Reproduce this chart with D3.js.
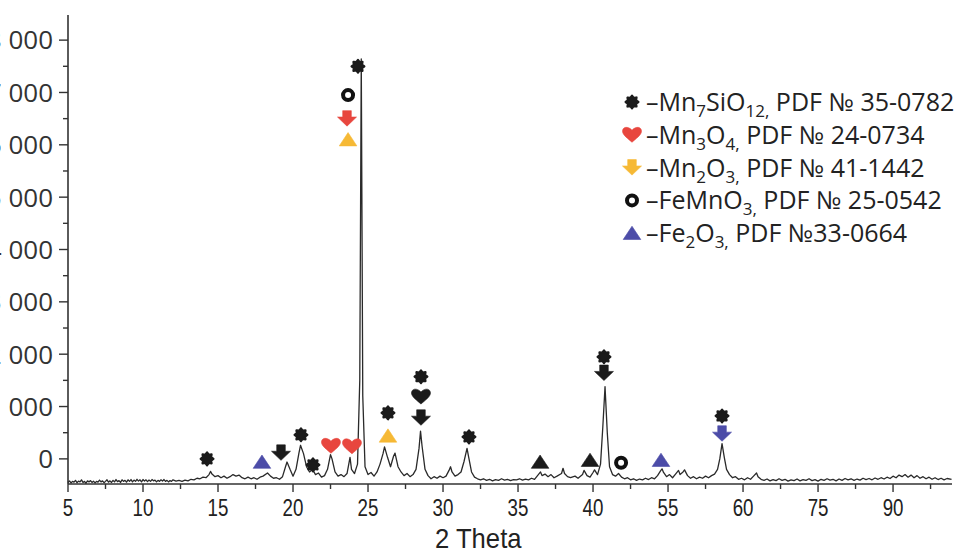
<!DOCTYPE html>
<html>
<head>
<meta charset="utf-8">
<script src="https://cdn.jsdelivr.net/npm/d3@7"></script>
<style>
  html, body { margin: 0; padding: 0; background: #ffffff; }
  svg { display: block; }
</style>
</head>
<body>
<svg id="chart" width="959" height="553"></svg>
<script>
// XRD scan: [2θ, intensity]
const scan = [
  [5.0,-450],[5.1,-420],[5.2,-460],[5.3,-430],[5.4,-445],[5.5,-410],[5.6,-455],[5.7,-425],[5.8,-440],[5.9,-400],
  [6.0,-450],[6.1,-430],[6.2,-465],[6.3,-420],[6.4,-440],[6.5,-415],[6.6,-450],[6.7,-425],[6.8,-460],[6.9,-430],
  [7.0,-445],[7.1,-405],[7.2,-440],[7.3,-420],[7.4,-455],[7.5,-430],[7.6,-400],[7.7,-445],[7.8,-420],[7.9,-450],
  [8.0,-410],[8.1,-440],[8.2,-395],[8.3,-435],[8.4,-415],[8.5,-450],[8.6,-400],[8.7,-430],[8.8,-410],[8.9,-445],
  [9.0,-400],[9.1,-430],[9.2,-395],[9.3,-440],[9.4,-405],[9.5,-430],[9.6,-390],[9.7,-425],[9.8,-400],[9.9,-440],
  [10.0,-395],[10.1,-425],[10.2,-400],[10.3,-435],[10.4,-405],[10.5,-430],[10.6,-395],[10.7,-420],[10.8,-405],[10.9,-440],
  [11.0,-410],[11.1,-430],[11.2,-400],[11.3,-425],[11.4,-395],[11.5,-430],[11.6,-410],[11.7,-440],[11.8,-415],[11.9,-430],
  [12.0,-400],[12.2,-425],[12.4,-410],[12.6,-430],[12.8,-405],[13.0,-420],[13.2,-390],[13.4,-400],[13.6,-370],[13.8,-380],
  [14.0,-350],[14.2,-360],[14.4,-300],[14.5,-240],[14.6,-290],[14.8,-340],[15.0,-320],[15.2,-360],[15.4,-330],[15.6,-370],
  [15.8,-340],[16.0,-300],[16.2,-330],[16.4,-310],[16.6,-360],[16.8,-380],[17.0,-350],[17.2,-380],[17.4,-360],[17.6,-390],
  [17.8,-350],[18.0,-330],[18.3,-270],[18.5,-330],[18.7,-370],[18.9,-360],[19.1,-390],[19.3,-340],[19.5,-150],[19.6,-60],
  [19.8,-200],[20.0,-330],[20.2,-200],[20.4,120],[20.5,260],[20.7,100],[20.9,-150],[21.1,-250],[21.3,-200],[21.5,-300],
  [21.7,-270],[21.9,-350],[22.1,-320],[22.3,-200],[22.5,80],[22.6,0],[22.8,-250],[23.0,-330],[23.2,-300],[23.4,-340],
  [23.6,-280],[23.8,30],[23.9,-200],[24.1,-280],[24.3,-100],[24.45,1500],[24.55,7640],[24.65,1200],[24.8,-150],[25.0,-300],
  [25.2,-260],[25.4,-330],[25.6,-250],[25.8,-100],[26.0,100],[26.1,230],[26.3,30],[26.5,-150],[26.7,50],[26.8,110],
  [27.0,-150],[27.2,-250],[27.4,-320],[27.6,-280],[27.8,-340],[28.0,-300],[28.2,-200],[28.4,200],[28.5,530],[28.6,250],
  [28.8,-200],[29.0,-320],[29.2,-380],[29.4,-340],[29.6,-370],[29.8,-330],[30.0,-360],[30.2,-330],[30.4,-220],[30.5,-150],
  [30.6,-250],[30.8,-330],[31.0,-300],[31.2,-250],[31.4,-50],[31.6,200],[31.7,50],[31.9,-250],[32.1,-350],[32.3,-380],
  [32.5,-400],[32.7,-380],[32.9,-410],[33.1,-390],[33.3,-420],[33.5,-395],[33.7,-410],[33.9,-380],[34.1,-405],[34.3,-390],
  [34.5,-415],[34.7,-395],[34.9,-400],[35.1,-380],[35.3,-405],[35.5,-385],[35.7,-400],[35.9,-370],[36.1,-390],[36.3,-320],
  [36.5,-250],[36.6,-320],[36.8,-290],[37.0,-340],[37.2,-300],[37.4,-360],[37.6,-330],[37.9,-280],[38.0,-180],[38.1,-280],
  [38.3,-340],[38.5,-360],[38.8,-330],[39.0,-370],[39.3,-300],[39.4,-220],[39.6,-320],[39.8,-350],[40.0,-260],[40.1,-210],
  [40.3,-300],[40.5,-100],[40.65,600],[40.8,1380],[40.95,500],[41.1,-150],[41.3,-300],[41.5,-330],[41.7,-280],[41.9,-350],
  [42.1,-380],[42.3,-360],[42.5,-400],[42.7,-380],[42.9,-410],[43.1,-385],[43.3,-400],[43.5,-370],[43.7,-395],[43.9,-360],
  [44.1,-380],[44.3,-320],[44.5,-230],[44.6,-190],[44.7,-260],[44.9,-340],[45.1,-300],[45.3,-360],[45.5,-290],[45.7,-220],
  [45.8,-300],[46.0,-250],[46.1,-210],[46.3,-320],[46.5,-370],[46.7,-340],[46.9,-380],[47.1,-350],[47.3,-370],[47.5,-330],
  [47.7,-360],[47.9,-320],[48.1,-290],[48.3,-200],[48.45,0],[48.6,290],[48.75,30],[48.9,-200],[49.1,-300],[49.3,-360],
  [49.5,-340],[49.7,-390],[49.9,-370],[50.1,-400],[50.3,-360],[50.5,-390],[50.7,-330],[50.9,-270],[51.0,-340],[51.2,-390],
  [51.4,-410],[51.6,-385],[51.8,-420],[52.0,-395],[52.2,-415],[52.4,-380],[52.6,-410],[52.8,-390],[53.0,-425],[53.2,-400],
  [53.4,-415],[53.6,-385],[53.8,-420],[54.0,-395],[54.2,-410],[54.4,-380],[54.6,-415],[54.8,-395],[55.0,-425],[55.2,-390],
  [55.4,-410],[55.6,-380],[55.8,-405],[56.0,-390],[56.2,-420],[56.4,-385],[56.6,-410],[56.8,-375],[57.0,-400],[57.2,-380],
  [57.4,-410],[57.6,-385],[57.8,-405],[58.0,-370],[58.2,-395],[58.4,-375],[58.6,-400],[58.8,-365],[59.0,-390],[59.2,-360],
  [59.4,-385],[59.6,-350],[59.8,-375],[60.0,-330],[60.2,-360],[60.4,-310],[60.6,-340],[60.8,-300],[61.0,-350],[61.2,-310],
  [61.4,-360],[61.6,-320],[61.8,-370],[62.0,-340],[62.2,-380],[62.4,-350],[62.6,-390],[62.8,-360],[63.0,-395],[63.2,-370],
  [63.4,-400],[63.6,-375],[63.9,-390]
];

// Axis ticks and labels
const xTickValues = [5, 10, 15, 20, 25, 30, 35, 40, 45, 50, 55, 60];
const xTickLabels = ["5", "10", "15", "20", "25", "30", "35", "40", "55", "60", "75", "90"];
const xMinorValues = [7.5, 12.5, 17.5, 22.5, 27.5, 32.5, 37.5, 42.5, 47.5, 52.5, 57.5, 62.5];
const yTickValues = [0, 1000, 2000, 3000, 4000, 5000, 6000, 7000, 8000];
const yTickLabels = ["0", "1 000", "2 000", "3 000", "4 000", "5 000", "6 000", "7 000", "8 000"];
const yMinorValues = [500, 1500, 2500, 3500, 4500, 5500, 6500, 7500];
const xTitle = "2 Theta";

// Phases: legend entries (text runs, "sub" marks a subscript run)
const phases = [
  { symbol: "asterisk", color: "#1b1b1b", formula: [["–Mn",""],["7","sub"],["SiO",""],["12,","sub"],[" PDF № 35-0782",""]] },
  { symbol: "heart",    color: "#e8463e", formula: [["–Mn",""],["3","sub"],["O",""],["4,","sub"],[" PDF № 24-0734",""]] },
  { symbol: "arrow",    color: "#f6b935", formula: [["–Mn",""],["2","sub"],["O",""],["3,","sub"],[" PDF № 41-1442",""]] },
  { symbol: "ring",     color: "#111111", formula: [["–FeMnO",""],["3,","sub"],[" PDF № 25-0542",""]] },
  { symbol: "triangle", color: "#4c4ca8", formula: [["–Fe",""],["2","sub"],["O",""],["3,","sub"],[" PDF №33-0664",""]] }
];

// Peak markers: symbol, colour, 2θ and intensity level where the marker sits
const markers = [
  { symbol: "asterisk", color: "#1b1b1b", theta: 14.27, level: 0 },
  { symbol: "triangle", color: "#4c4ca8", theta: 17.93, level: -60 },
  { symbol: "arrow",    color: "#1b1b1b", theta: 19.2,  level: 115 },
  { symbol: "asterisk", color: "#1b1b1b", theta: 20.53, level: 460 },
  { symbol: "asterisk", color: "#1b1b1b", theta: 21.33, level: -115 },
  { symbol: "heart",    color: "#e8463e", theta: 22.53, level: 250 },
  { symbol: "heart",    color: "#e8463e", theta: 23.93, level: 240 },
  { symbol: "asterisk", color: "#1b1b1b", theta: 24.33, level: 7500 },
  { symbol: "ring",     color: "#111111", theta: 23.67, level: 6950 },
  { symbol: "arrow",    color: "#e8463e", theta: 23.6,  level: 6500 },
  { symbol: "triangle", color: "#f6b935", theta: 23.67, level: 6100 },
  { symbol: "asterisk", color: "#1b1b1b", theta: 26.33, level: 880 },
  { symbol: "triangle", color: "#f6b935", theta: 26.33, level: 440 },
  { symbol: "asterisk", color: "#1b1b1b", theta: 28.53, level: 1570 },
  { symbol: "heart",    color: "#1b1b1b", theta: 28.53, level: 1190 },
  { symbol: "arrow",    color: "#1b1b1b", theta: 28.53, level: 785 },
  { symbol: "asterisk", color: "#1b1b1b", theta: 31.73, level: 420 },
  { symbol: "triangle", color: "#1b1b1b", theta: 36.47, level: -60 },
  { symbol: "triangle", color: "#1b1b1b", theta: 39.8,  level: -25 },
  { symbol: "asterisk", color: "#1b1b1b", theta: 40.73, level: 1950 },
  { symbol: "arrow",    color: "#1b1b1b", theta: 40.73, level: 1640 },
  { symbol: "ring",     color: "#111111", theta: 41.87, level: -75 },
  { symbol: "triangle", color: "#4c4ca8", theta: 44.53, level: -25 },
  { symbol: "asterisk", color: "#1b1b1b", theta: 48.6,  level: 820 },
  { symbol: "arrow",    color: "#4c4ca8", theta: 48.6,  level: 480 }
];

const svg = d3.select("#chart");
const margin = { left: 68, right: 7, top: 15, bottom: 69 };
const W = 959, H = 553;

const x = d3.scaleLinear().domain([5, 63.93]).range([margin.left, W - margin.right]);
const y = d3.scaleLinear().domain([-480, 8480]).range([H - margin.bottom, margin.top]);

// Marker glyphs, centred on the origin
function asteriskPath(r) {
  const pts = [];
  for (let i = 0; i < 16; i++) {
    const a = Math.PI * i / 8 - Math.PI / 2;
    const rr = i % 2 === 0 ? r : r * 0.7;
    pts.push([rr * Math.cos(a), rr * Math.sin(a)]);
  }
  return "M" + pts.map(p => p.join(",")).join("L") + "Z";
}
const glyph = {
  asterisk: () => asteriskPath(6.4),
  heart: () => "M0,7.5 C-3,4.5 -9.5,0.5 -9.5,-3.6 C-9.5,-7.8 -4.2,-9.2 0,-4.6 C4.2,-9.2 9.5,-7.8 9.5,-3.6 C9.5,0.5 3,4.5 0,7.5 Z",
  arrow: () => "M-4.3,-8 L4.3,-8 L4.3,-1.6 L9.5,-1.6 L0,7.5 L-9.5,-1.6 L-4.3,-1.6 Z",
  triangle: () => "M0,-7 L8.8,6.3 L-8.8,6.3 Z"
};
function drawSymbol(g, symbol, color) {
  if (symbol === "ring") {
    g.append("circle").attr("r", 5).attr("fill", "none").attr("stroke", color).attr("stroke-width", 4);
  } else {
    g.append("path").attr("d", glyph[symbol]())
      .attr("fill", color)
      .attr("stroke", color)
      .attr("stroke-width", symbol === "asterisk" ? 2.2 : 0.6)
      .attr("stroke-linejoin", "round");
  }
}

const narrowFont = "'Liberation Sans', Arial, sans-serif";

// Y axis
const yAxis = svg.append("g").attr("transform", `translate(${margin.left},0)`);
yAxis.append("line").attr("x1", 0).attr("x2", 0)
  .attr("y1", margin.top).attr("y2", y(-480)).attr("stroke", "#333").attr("stroke-width", 1.6);
yAxis.selectAll(".ymaj").data(yTickValues).join("line")
  .attr("x1", -9).attr("x2", 0).attr("y1", d => y(d)).attr("y2", d => y(d))
  .attr("stroke", "#333").attr("stroke-width", 1.4);
yAxis.selectAll(".ymin").data(yMinorValues).join("line")
  .attr("x1", -5).attr("x2", 0).attr("y1", d => y(d)).attr("y2", d => y(d))
  .attr("stroke", "#333").attr("stroke-width", 1.4);
yAxis.selectAll(".ylab").data(yTickValues).join("text")
  .attr("x", -15).attr("y", d => y(d)).attr("dy", "0.36em")
  .attr("text-anchor", "end")
  .attr("font-family", "'Open Sans', 'Noto Sans', sans-serif")
  .attr("font-size", 26).attr("fill", "#333")
  .text((d, i) => yTickLabels[i]);

// X axis
const xAxisY = y(-480);
const xAxis = svg.append("g").attr("transform", `translate(0,${xAxisY})`);
xAxis.append("line").attr("x1", margin.left).attr("x2", W - margin.right)
  .attr("y1", 0).attr("y2", 0).attr("stroke", "#333").attr("stroke-width", 1.6);
xAxis.selectAll(".xmaj").data(xTickValues).join("line")
  .attr("x1", d => x(d)).attr("x2", d => x(d)).attr("y1", 0).attr("y2", 8)
  .attr("stroke", "#333").attr("stroke-width", 1.4);
xAxis.selectAll(".xmin").data(xMinorValues).join("line")
  .attr("x1", d => x(d)).attr("x2", d => x(d)).attr("y1", 0).attr("y2", 5)
  .attr("stroke", "#333").attr("stroke-width", 1.4);
xAxis.selectAll(".xlab").data(xTickValues).join("text")
  .attr("transform", d => `translate(${x(d)},32) scale(0.78,1)`)
  .attr("text-anchor", "middle")
  .attr("font-family", narrowFont)
  .attr("font-size", 24).attr("fill", "#222")
  .text((d, i) => xTickLabels[i]);
svg.append("text")
  .attr("transform", `translate(${x(32.35)},548) scale(0.95,1)`)
  .attr("text-anchor", "middle")
  .attr("font-family", narrowFont)
  .attr("font-size", 27).attr("fill", "#222")
  .text(xTitle);

// Diffraction trace
const line = d3.line().x(d => x(d[0])).y(d => y(d[1]));
svg.append("path").datum(scan)
  .attr("d", line)
  .attr("fill", "none").attr("stroke", "#2a2a2a").attr("stroke-width", 1.3)
  .attr("stroke-linejoin", "round");

// Phase markers above the peaks
const mk = svg.append("g");
markers.forEach(m => {
  const g = mk.append("g").attr("transform", `translate(${x(m.theta)},${y(m.level)})`);
  drawSymbol(g, m.symbol, m.color);
});

// Legend
const subShift = 6;
const legend = svg.append("g").attr("transform", "translate(632,102)");
phases.forEach((p, i) => {
  const row = legend.append("g").attr("transform", `translate(0,${i * 32.8})`);
  drawSymbol(row, p.symbol, p.color);
  const t = row.append("text")
    .attr("x", 14).attr("y", 0).attr("dy", "0.36em")
    .attr("font-family", "'Open Sans', 'Noto Sans', sans-serif")
    .attr("font-size", 25).attr("fill", "#222");
  let shifted = false;
  p.formula.forEach(([txt, kind]) => {
    const s = t.append("tspan").text(txt);
    if (kind === "sub") {
      s.attr("font-size", 17);
      if (!shifted) s.attr("dy", subShift);
      shifted = true;
    } else if (shifted) {
      s.attr("dy", -subShift);
      shifted = false;
    }
  });
});
</script>
</body>
</html>
